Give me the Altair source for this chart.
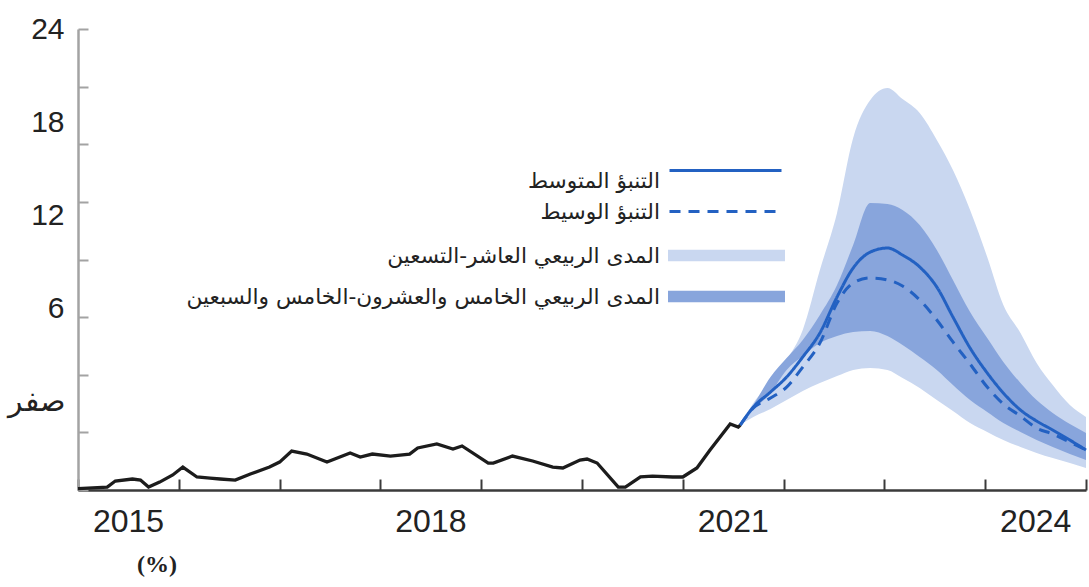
import altair as alt
import numpy as np
import pandas as pd

# Observed series (decimal years, percent)
hist_year = [2015.00, 2015.29, 2015.37, 2015.54, 2015.62, 2015.70, 2015.81, 2015.94,
             2016.04, 2016.18, 2016.31, 2016.41, 2016.56, 2016.71, 2016.90, 2017.00,
             2017.12, 2017.27, 2017.47, 2017.70, 2017.80, 2017.92, 2018.10, 2018.29,
             2018.37, 2018.56, 2018.72, 2018.81, 2019.07, 2019.12, 2019.31, 2019.51,
             2019.71, 2019.81, 2019.98, 2020.05, 2020.15, 2020.36, 2020.43, 2020.58,
             2020.70, 2020.90, 2021.00, 2021.14, 2021.27, 2021.37, 2021.47, 2021.55,
             2021.57]
hist_value = [-5.65, -5.55, -5.16, -5.03, -5.10, -5.55, -5.23, -4.77,
              -4.26, -4.90, -4.97, -5.03, -5.10, -4.71, -4.26, -3.94,
              -3.23, -3.42, -3.94, -3.35, -3.61, -3.42, -3.55, -3.42,
              -3.03, -2.77, -3.10, -2.90, -4.00, -4.00, -3.55, -3.87,
              -4.26, -4.32, -3.81, -3.74, -4.00, -5.55, -5.55, -4.90,
              -4.84, -4.90, -4.90, -4.32, -3.16, -2.32, -1.48, -1.68,
              -1.55]

# Forecast distribution
fc_year = [2021.57, 2021.70, 2021.87, 2022.03, 2022.19, 2022.36, 2022.53, 2022.69,
           2022.86, 2023.03, 2023.18, 2023.35, 2023.52, 2023.68, 2023.85, 2024.02,
           2024.18, 2024.35, 2024.51, 2024.67, 2024.84, 2025.00]
p90 = [-1.55, -0.13, 1.23, 2.65, 4.58, 8.45, 12.13, 16.97, 19.42, 20.19, 19.48,
       18.58, 16.84, 14.90, 12.32, 9.29, 6.19, 4.39, 2.45, 1.03, -0.26, -1.03]
p75 = [-1.55, -0.26, 1.55, 2.77, 3.94, 5.55, 7.48, 10.06, 12.77, 12.71, 12.32,
       11.35, 9.74, 7.81, 5.74, 4.06, 2.52, 1.16, 0.06, -0.77, -1.48, -2.06]
p25 = [-1.55, -0.58, 0.52, 2.00, 2.90, 3.74, 4.19, 4.45, 4.52, 4.19, 3.61,
       2.84, 2.00, 1.03, 0.06, -0.71, -1.42, -2.00, -2.52, -2.97, -3.42, -3.81]
p10 = [-1.55, -1.03, -0.52, 0.06, 0.65, 1.16, 1.61, 2.00, 2.13, 2.00, 1.48,
       0.84, 0.06, -0.65, -1.42, -2.00, -2.52, -2.97, -3.35, -3.68, -4.00, -4.32]
fc_mean = [-1.55, -0.39, 0.58, 1.55, 2.84, 4.39, 6.71, 8.58, 9.61, 9.87, 9.42,
           8.65, 7.35, 5.42, 3.42, 1.81, 0.52, -0.58, -1.29, -1.87, -2.52, -3.16]
fc_median = [-1.55, -0.45, 0.19, 0.90, 2.19, 3.74, 6.32, 7.61, 7.94, 7.81, 7.42,
             6.52, 5.23, 3.81, 2.39, 0.90, -0.19, -0.97, -1.74, -2.13, -2.65, -3.16]

MEAN_LABEL = "التنبؤ المتوسط"
MEDIAN_LABEL = "التنبؤ الوسيط"
OUTER_LABEL = "المدى الربيعي العاشر-التسعين"
INNER_LABEL = "المدى الربيعي الخامس والعشرون-الخامس والسبعين"

y_label_values = [0, 6, 12, 18, 24]
x_label_years = [2015, 2018, 2021, 2024]
x_tick_years = list(range(2015, 2026))

BLUE = "#2361c2"
LIGHT = "#c9d7f0"
DARK = "#88a5dc"
INK = "#1c1c1c"
FONT = "Liberation Sans"
AR_FONT = "DejaVu Sans"

W, H = 1008, 461
Y_MIN, Y_MAX = -5.74, 24
y_tick_values = [float(v) for v in np.linspace(Y_MAX, Y_MIN, 9)]

hist = pd.DataFrame({"year": hist_year, "value": hist_value})
outer = pd.DataFrame({"year": fc_year, "lo": p10, "hi": p90, "band": OUTER_LABEL})
inner = pd.DataFrame({"year": fc_year, "lo": p25, "hi": p75, "band": INNER_LABEL})
mean_df = pd.DataFrame({"year": fc_year, "value": fc_mean, "series": MEAN_LABEL})
median_df = pd.DataFrame({"year": fc_year, "value": fc_median, "series": MEDIAN_LABEL})

x_scale = alt.Scale(domain=[2015, 2025], nice=False, zero=False)
y_scale = alt.Scale(domain=[Y_MIN, Y_MAX], nice=False, zero=False)

# Year labels centred in each year, ticks drawn separately pointing inward
x_label_axis = alt.Axis(orient="bottom", values=x_label_years, format="d", title=None,
                        ticks=False, grid=False, domainColor="#3a3a3a", domainWidth=2.5,
                        labelOffset=50, labelFont=FONT, labelFontSize=32, labelColor="#222222",
                        labelPadding=16, labelFlush=False, labelOverlap=False)
x_tick_axis = alt.Axis(orient="top", offset=-H, values=x_tick_years, title=None,
                       labels=False, domain=False, grid=False, tickSize=11, tickWidth=2,
                       tickColor="#3a3a3a")
y_label_axis = alt.Axis(orient="left", values=y_label_values, title=None, ticks=False,
                        grid=False, domainColor="#a3a3a3", domainWidth=2.5,
                        labelFont=FONT, labelFontSize=30, labelColor="#222222", labelPadding=14,
                        labelExpr="datum.value == 0 ? 'صفر' : datum.label")
y_tick_axis = alt.Axis(orient="right", offset=-W, values=y_tick_values, title=None,
                       labels=False, domain=False, grid=False, tickSize=10, tickWidth=2,
                       tickColor="#a3a3a3")


def key_legend(y, stroke_key, baseline="middle"):
    """Single-entry legend with its label to the left of the key (right-to-left)."""
    common = dict(title=None, orient="none", legendX=590, legendY=y, padding=0,
                  labelAlign="right", labelBaseline=baseline, labelLimit=700,
                  labelFont=AR_FONT, labelFontSize=21.7, labelColor="#222222")
    if stroke_key:
        return alt.Legend(symbolType="stroke", symbolSize=12544, symbolStrokeWidth=3,
                          symbolStrokeColor=BLUE, labelOffset={"expr": "-123"}, **common)
    return alt.Legend(symbolType="M-1,-0.1H1V0.1H-1Z", symbolSize=13689,
                      symbolStrokeWidth=0, symbolOpacity=1,
                      labelOffset={"expr": "-125"}, **common)


outer_band = alt.Chart(outer).mark_area(opacity=1, interpolate="monotone").encode(
    x=alt.X("year:Q", scale=x_scale, axis=x_tick_axis),
    y=alt.Y("hi:Q", scale=y_scale, axis=y_tick_axis),
    y2="lo:Q",
    fill=alt.Fill("band:N", scale=alt.Scale(domain=[OUTER_LABEL], range=[LIGHT]),
                  legend=key_legend(168, False)),
)
inner_band = alt.Chart(inner).mark_area(opacity=1, interpolate="monotone").encode(
    x=alt.X("year:Q", scale=x_scale, axis=None),
    y=alt.Y("hi:Q", scale=y_scale, axis=None),
    y2="lo:Q",
    fill=alt.Fill("band:N", scale=alt.Scale(domain=[INNER_LABEL], range=[DARK]),
                  legend=key_legend(209, False)),
)
mean_line = alt.Chart(mean_df).mark_line(color=BLUE, strokeWidth=3, interpolate="monotone").encode(
    x=alt.X("year:Q", scale=x_scale, axis=None),
    y=alt.Y("value:Q", scale=y_scale, axis=None),
    strokeDash=alt.StrokeDash("series:N", scale=alt.Scale(domain=[MEAN_LABEL], range=[[1, 0]]),
                              legend=key_legend(84, True, "top")),
)
median_line = alt.Chart(median_df).mark_line(color=BLUE, strokeWidth=3, interpolate="monotone").encode(
    x=alt.X("year:Q", scale=x_scale, axis=None),
    y=alt.Y("value:Q", scale=y_scale, axis=None),
    strokeDash=alt.StrokeDash("series:N", scale=alt.Scale(domain=[MEDIAN_LABEL], range=[[11, 8]]),
                              legend=key_legend(125, True)),
)
history = alt.Chart(hist).mark_line(color=INK, strokeWidth=3.3).encode(
    x=alt.X("year:Q", scale=x_scale, axis=x_label_axis),
    y=alt.Y("value:Q", scale=y_scale, axis=y_label_axis),
)

chart = (
    alt.layer(outer_band, inner_band, mean_line, median_line, history)
    .resolve_scale(x="shared", y="shared", fill="independent", strokeDash="independent")
    .resolve_axis(x="independent", y="independent")
    .resolve_legend(fill="independent", strokeDash="independent")
    .properties(
        width=W, height=H,
        autosize=alt.AutoSizeParams(type="none"),
        padding={"left": 78, "top": 29, "right": 3, "bottom": 97},
        title=alt.TitleParams("(%)", orient="bottom", anchor="start", frame="group",
                              dx=59, offset=16, font="Liberation Serif", fontSize=24,
                              fontWeight="bold", color="#222222"),
    )
    .configure(background="white", font=FONT)
    .configure_view(strokeWidth=0)
)

chart.save("out.html", embed_options={"renderer": "svg", "actions": False})
